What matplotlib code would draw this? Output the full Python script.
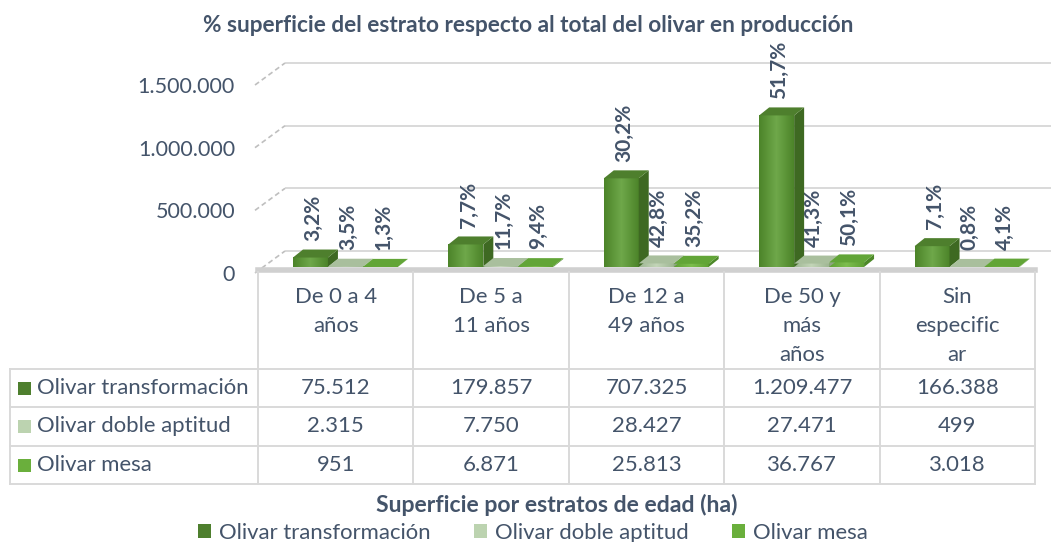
import numpy as np
import matplotlib.pyplot as plt
from matplotlib.patches import Polygon, Patch
from matplotlib.lines import Line2D
from matplotlib.transforms import ScaledTranslation, blended_transform_factory
from matplotlib.colors import LinearSegmentedColormap

plt.rcParams['font.family'] = ['Lato', 'DejaVu Sans']

# datos (ha)
categorias = ["De 0 a 4\naños", "De 5 a\n11 años", "De 12 a\n49 años",
              "De 50 y\nmás\naños", "Sin\nespecific\nar"]
series = ["Olivar transformación", "Olivar doble aptitud", "Olivar mesa"]
transformacion = [75512, 179857, 707325, 1209477, 166388]
doble_aptitud = [2315, 7750, 28427, 27471, 499]
mesa = [951, 6871, 25813, 36767, 3018]
yticks = [0, 500000, 1000000, 1500000]
yticklabels = ["0", "500.000", "1.000.000", "1.500.000"]

datos = [transformacion, doble_aptitud, mesa]
TXT = '#44546A'
GRID = '#D9D9D9'
frente = [('#4C8429', '#6FA84A'), ('#9FB793', '#C3D5B8'), ('#5FA133', '#7DBE4E')]
arriba = ['#4E7F2D', '#A9BF9D', '#62A537']
lado = ['#3E6922', '#8EA582', '#4C8828']
leyenda = ['#4E7F2E', '#BCD3B0', '#6AAF3C']
FS = 15.9

W, H, DPI = 1051, 542, 100
fig = plt.figure(figsize=(W / DPI, H / DPI), dpi=DPI)


def fy(py):
    return 1 - py / H


def desp(dx, dy):
    # desplazamiento en pixeles (dy hacia abajo)
    return ScaledTranslation(dx / DPI, -dy / DPI, fig.dpi_scale_trans)


# plano frontal del grafico
ax = fig.add_axes([258 / W, fy(267), (1035 - 258) / W, (267 - 79) / H])
ax.set_xlim(0, 5)
ax.set_ylim(0, 1500000)
ax.axis('off')

# pared del fondo y suelo
FX, FY = 27, -16
ax.hlines(yticks, 0, 5.2, colors=GRID, lw=1.4, transform=ax.transData + desp(FX, FY),
          clip_on=False, zorder=1)
inv = fig.transFigure.inverted()
for v in yticks:
    p = ax.transData.transform((0, v))
    a = inv.transform(p + np.array([-3, -6]))
    b = inv.transform(p + np.array([FX, -FY]))
    fig.add_artist(Line2D([a[0], b[0]], [a[1], b[1]], color='#BFBFBF', lw=1.2,
                          ls=(0, (3, 2)), zorder=1))

bt = blended_transform_factory(ax.transData, fig.transFigure)
fig.add_artist(Line2D([0, 5], [fy(270), fy(270)], transform=bt, color='#D0D0D0', lw=4,
                      zorder=1))

for t, lab in zip(yticks, yticklabels):
    ax.text(-0.148, t, lab, ha='right', va='center', fontsize=15.5, color=TXT,
            transform=ax.transData + desp(0, 8))

# columnas con volumen
w = 0.225
x0 = np.arange(len(categorias)) + 0.225
BX, BY = 10, 8
for j, vals in enumerate(datos):
    cmap = LinearSegmentedColormap.from_list('f%d' % j, [frente[j][0], frente[j][1], frente[j][0]])
    bars = ax.bar(x0 + j * w, vals, width=w, align='edge', color=frente[j][0],
                  lw=0, zorder=3 + j, clip_on=False)
    total = sum(vals)
    for b, v in zip(bars, vals):
        x, h = b.get_x(), b.get_height()
        grad = np.linspace(0, 1, 64)[None, :]
        im = ax.imshow(np.vstack([grad, grad]), extent=[x, x + w, 0, h], aspect='auto',
                       cmap=cmap, zorder=3 + j, clip_on=False)
        im.set_clip_path(b)
        (l, bo), (r, to) = ax.transData.transform([(x, 0), (x + w, h)])
        top = [(l, to), (r, to), (r + BX, to + BY), (l + BX, to + BY)]
        side = [(r, bo), (r, to), (r + BX, to + BY), (r + BX, bo + BY)]
        fig.add_artist(Polygon(inv.transform(side), closed=True, fc=lado[j], lw=0,
                               zorder=3 + j))
        fig.add_artist(Polygon(inv.transform(top), closed=True, fc=arriba[j], lw=0,
                               zorder=3 + j))
        etiqueta = ("%.1f%%" % (v / total * 100)).replace('.', ',')
        ax.annotate(etiqueta, xy=(x + w / 2, h), xytext=(2, 12), textcoords='offset points',
                    rotation=90, ha='center', va='bottom', fontsize=15, fontweight='bold',
                    color=TXT, zorder=10)
ax.set_xlim(0, 5)
ax.set_ylim(0, 1500000)

# tabla de datos
filas = [369, 407, 446, 484]
for k, yy in enumerate(filas):
    fig.add_artist(Line2D([10 / W, 1035 / W], [fy(yy), fy(yy)], color=GRID, lw=1.4))
fig.add_artist(Line2D([10 / W, 10 / W], [fy(369), fy(484)], color=GRID, lw=1.4))
for c in range(len(categorias) + 1):
    fig.add_artist(Line2D([c, c], [fy(272), fy(484)], transform=bt, color=GRID, lw=1.4))

for i, cat in enumerate(categorias):
    for k, linea in enumerate(cat.split('\n')):
        fig.text(i + 0.5, fy(297 + 29 * k), linea, transform=bt, ha='center', va='center',
                 fontsize=FS, color=TXT)

centros = [388, 426.5, 465]
for j, (nombre, vals) in enumerate(zip(series, datos)):
    yc = centros[j]
    fig.add_artist(plt.Rectangle((18 / W, fy(yc + 6.5)), 13 / W, 13 / H, fc=leyenda[j], lw=0))
    fig.text(37 / W, fy(yc), nombre, ha='left', va='center', fontsize=FS, color=TXT)
    for i, v in enumerate(vals):
        fig.text(i + 0.5, fy(yc), ("{:,}".format(v)).replace(',', '.'), transform=bt,
                 ha='center', va='center', fontsize=FS, color=TXT)

# titulos
fig.text(528 / W, fy(25), "% superficie del estrato respecto al total del olivar en producción",
         ha='center', va='center', fontsize=16.3, fontweight='bold', color=TXT)
fig.text(557 / W, fy(505), "Superficie por estratos de edad (ha)", ha='center', va='center',
         fontsize=16.6, fontweight='bold', color=TXT)

# leyenda
handles = [Patch(fc=c, lw=0) for c in leyenda]
fig.legend(handles, series, loc='center', bbox_to_anchor=(533 / W, fy(533)), ncol=3,
           frameon=False, fontsize=FS, labelcolor=TXT, handlelength=0.6, handleheight=0.6,
           handletextpad=0.36, columnspacing=1.95, borderpad=0, borderaxespad=0)

fig.savefig('out.png', dpi=DPI, facecolor='white')
